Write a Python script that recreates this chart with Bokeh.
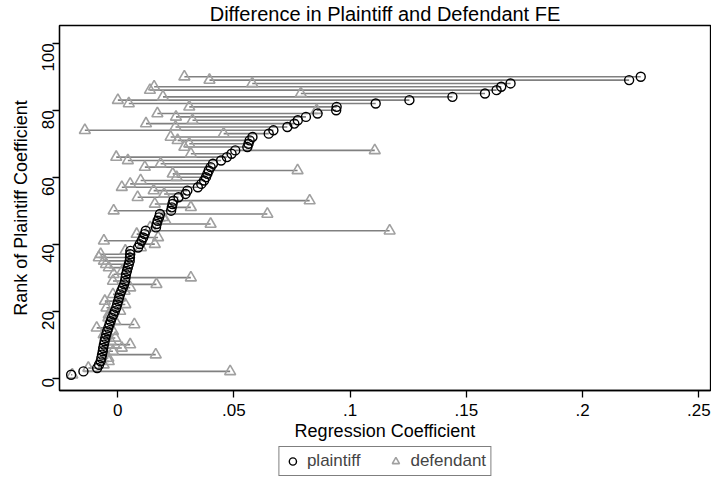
import math
from bokeh.plotting import figure
from bokeh.layouts import column
from bokeh.models import (ColumnDataSource, FixedTicker, CustomJSTickFormatter,
                          Legend, LegendItem, Range1d)
from bokeh.embed import file_html
from bokeh.resources import INLINE

# ---- data -------------------------------------------------------------
rank = list(range(1, 91))

plaintiff = [
    -0.0200, -0.0147, -0.0088, -0.0080, -0.0073, -0.0070, -0.0067, -0.0064, -0.0062, -0.0059,
    -0.0056, -0.0053, -0.0049, -0.0045, -0.0040, -0.0035, -0.0030, -0.0025, -0.0018, -0.0012,
    -0.0006, -0.0002, 0.0002, 0.0006, 0.0010, 0.0016, 0.0022, 0.0028, 0.0032, 0.0034,
    0.0036, 0.0040, 0.0044, 0.0048, 0.0052, 0.0053, 0.0054, 0.0055, 0.0088, 0.0095,
    0.0103, 0.0110, 0.0116, 0.0121, 0.0165, 0.0168, 0.0172, 0.0178, 0.0182, 0.0230,
    0.0233, 0.0236, 0.0240, 0.0262, 0.0292, 0.0300, 0.0345, 0.0360, 0.0372, 0.0380,
    0.0386, 0.0392, 0.0400, 0.0410, 0.0445, 0.0470, 0.0490, 0.0506, 0.0558, 0.0563,
    0.0568, 0.0580, 0.0650, 0.0670, 0.0730, 0.0760, 0.0775, 0.0810, 0.0860, 0.0940,
    0.0942, 0.1110, 0.1255, 0.1440, 0.1580, 0.1630, 0.1650, 0.1690, 0.2200, 0.2250,
]

defendant = [
    -0.0195, 0.0484, -0.0126, -0.0060, -0.0038, -0.0040, 0.0164, -0.0020, 0.0018, 0.0054,
    -0.0030, -0.0010, -0.0060, -0.0020, -0.0090, 0.0072, -0.0010, -0.0040, -0.0038, 0.0011,
    -0.0048, 0.0033, -0.0055, 0.0010, -0.0020, 0.0030, 0.0054, 0.0167, -0.0020, 0.0315,
    -0.0017, 0.0020, -0.0038, -0.0050, -0.0059, -0.0081, -0.0073, 0.0033, 0.0100, 0.0160,
    -0.0059, 0.0174, 0.0082, 0.1170, 0.0140, 0.0400, 0.0206, 0.0195, 0.0644, -0.0017,
    0.0315, 0.0160, 0.0826, 0.0086, 0.0200, 0.0155, 0.0018, 0.0054, 0.0099, 0.0254,
    0.0237, 0.0774, 0.0117, 0.0185, 0.0044, -0.0006, 0.0315, 0.1106, 0.0287, 0.0308,
    0.0258, 0.0228, 0.0456, -0.0141, 0.0249, 0.0122, 0.0322, 0.0251, 0.0171, 0.0856,
    0.0308, 0.0048, 0.0001, 0.0195, 0.0788, 0.0139, 0.0157, 0.0579, 0.0395, 0.0287,
]

x_ticks = [0, 0.05, 0.1, 0.15, 0.2, 0.25]
y_ticks = [0, 20, 40, 60, 80, 100]

title_text = "Difference in Plaintiff and Defendant FE"
x_title = "Regression Coefficient"
y_title = "Rank of Plaintiff Coefficient"
series_names = ["plaintiff", "defendant"]

# ---- main figure ------------------------------------------------------
FONT = "Liberation Sans"
src = ColumnDataSource(dict(rank=rank, plaintiff=plaintiff, defendant=defendant))

p = figure(width=711, height=445, output_backend="svg", toolbar_location=None,
           x_range=Range1d(-0.025, 0.255), y_range=Range1d(-3.7, 105.3),
           min_border_left=57, min_border_right=1, min_border_top=22,
           min_border_bottom=55, background_fill_color="white",
           border_fill_color="white")

p.title.text = title_text
p.title.align = "center"
p.title.text_font = FONT
p.title.text_font_size = "20px"
p.title.text_font_style = "normal"
p.title.text_color = "black"
p.title.standoff = 1
p.title.offset = 0

p.grid.visible = False
p.outline_line_color = "black"
p.outline_line_width = 1.3

for ax in (p.xaxis, p.yaxis):
    ax.axis_line_color = "black"
    ax.axis_line_width = 1.3
    ax.major_tick_line_color = "black"
    ax.major_tick_line_width = 1.3
    ax.major_tick_out = 7
    ax.major_tick_in = 0
    ax.minor_tick_line_color = None
    ax.major_label_text_font = FONT
    ax.major_label_text_font_size = "17px"
    ax.major_label_text_color = "black"
    ax.axis_label_text_font = FONT
    ax.axis_label_text_font_size = "18px"
    ax.axis_label_text_font_style = "normal"
    ax.axis_label_text_color = "black"

p.xaxis.ticker = FixedTicker(ticks=x_ticks)
p.xaxis.formatter = CustomJSTickFormatter(code="""
    const s = (Math.round(tick * 100) / 100).toString();
    return s.replace(/^0\\./, '.');
""")
p.xaxis.axis_label = x_title
p.xaxis.major_label_standoff = 6
p.xaxis.axis_label_standoff = 2

p.yaxis.ticker = FixedTicker(ticks=y_ticks)
p.yaxis.axis_label = y_title
p.yaxis.major_label_orientation = math.pi / 2
p.yaxis.major_label_standoff = 4
p.yaxis.axis_label_standoff = 3

SEG_COLOR = "#808080"
TRI_COLOR = "#a0a0a0"

p.segment(x0="defendant", y0="rank", x1="plaintiff", y1="rank", source=src,
          line_color=SEG_COLOR, line_width=1.6)
p.scatter(x="defendant", y="rank", source=src, marker="triangle", size=11,
          fill_color=None, line_color=TRI_COLOR, line_width=1.6)
p.scatter(x="plaintiff", y="rank", source=src, marker="circle", size=9,
          fill_color=None, line_color="black", line_width=1.4)

# ---- legend strip (separate small figure below) -----------------------
lg = figure(width=711, height=32, output_backend="svg", toolbar_location=None,
            x_range=Range1d(0, 1), y_range=Range1d(0, 1),
            min_border_left=59, min_border_right=0, min_border_top=0,
            min_border_bottom=0, background_fill_color="white",
            border_fill_color="white")
lg.axis.visible = False
lg.grid.visible = False
lg.outline_line_color = None

# one off-screen point each, only so that the legend can draw its glyphs
dummy = ColumnDataSource(dict(x=[-10.0], y=[-10.0]))
r_c = lg.scatter(x="x", y="y", source=dummy, marker="circle", size=9,
                 fill_color=None, line_color="black", line_width=1.4)
r_t = lg.scatter(x="x", y="y", source=dummy, marker="triangle", size=11,
                 fill_color=None, line_color=TRI_COLOR, line_width=1.6)

legend = Legend(items=[LegendItem(label=series_names[0], renderers=[r_c]),
                       LegendItem(label=series_names[1], renderers=[r_t])],
                orientation="horizontal", location="center")
legend.label_text_font = FONT
legend.label_text_font_size = "17px"
legend.border_line_color = "black"
legend.border_line_width = 1
legend.padding = 4
legend.spacing = 26
legend.margin = 0
legend.glyph_width = 18
legend.label_standoff = 6
lg.add_layout(legend, "center")

layout = column(p, lg, spacing=0)
open("out.html", "w").write(file_html(layout, INLINE))
